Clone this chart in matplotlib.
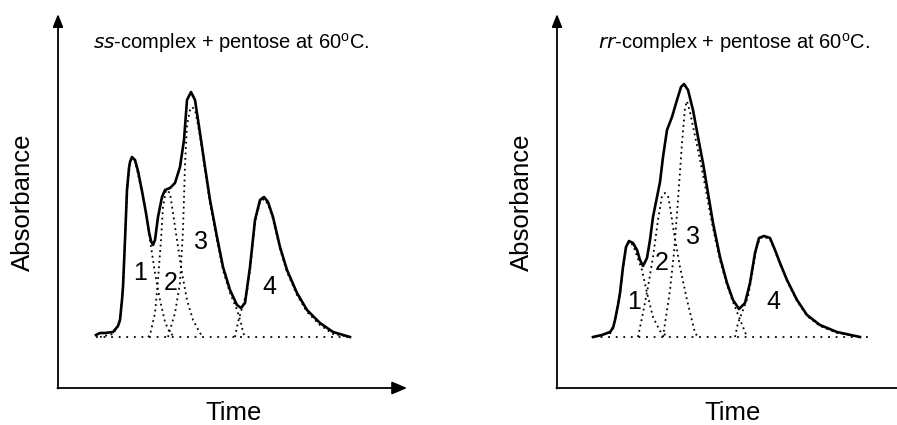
import matplotlib
matplotlib.use("Agg")
import matplotlib.pyplot as plt

plt.rcParams['font.family'] = ['Liberation Sans', 'DejaVu Sans']

# ---------------- data (time, absorbance above baseline; arbitrary units) -------------
# Left panel: ss-complex
ss_total_t = [38, 42, 47, 55, 60, 62, 64, 65, 67, 69, 71, 72, 74, 77, 80, 84, 88, 91, 93, 95, 97,
              100, 104, 107, 112, 117, 122, 126, 129, 133, 137, 142, 147, 152, 159, 165, 172,
              179, 183, 187, 192, 197, 202, 206, 210, 215, 222, 229, 239, 249, 262, 275, 292]
ss_total_a = [2, 4, 4, 5, 11, 17, 37, 50, 97, 147, 169, 175, 180, 177, 166, 146, 124, 105, 96, 92, 97,
              120, 140, 147, 149, 154, 170, 197, 237, 245, 237, 204, 170, 137, 100, 70, 47,
              32, 29, 34, 70, 117, 137, 140, 135, 120, 90, 67, 44, 27, 14, 5, 0]
ss_p1_t = [42, 55, 60, 62, 65, 67, 69, 72, 74, 77, 80, 85, 90, 92, 97, 102, 107, 112, 117]
ss_p1_a = [0, 3, 11, 17, 50, 97, 147, 174, 179, 176, 163, 139, 112, 97, 64, 37, 15, 4, 0]
ss_p2_t = [90, 92, 97, 100, 103, 105, 108, 112, 115, 119, 124, 129, 135, 142, 145]
ss_p2_a = [0, 2, 24, 57, 97, 130, 147, 144, 124, 97, 64, 37, 17, 4, 0]
ss_p3_t = [110, 117, 122, 125, 127, 129, 132, 134, 137, 139, 142, 147, 152, 159, 165, 172, 179, 183, 185, 187]
ss_p3_a = [0, 24, 54, 107, 172, 212, 227, 230, 227, 217, 201, 167, 134, 97, 67, 44, 27, 14, 5, 0]
ss_p4_t = [177, 180, 184, 189, 192, 197, 202, 206, 210, 215, 222, 229, 239, 249, 262, 275, 292]
ss_p4_a = [0, 15, 29, 45, 67, 115, 135, 138, 133, 118, 88, 65, 42, 25, 12, 3, 0]
ss_base_t = [38, 292]

# Right panel: rr-complex
rr_total_t = [36, 45, 53, 56, 58, 61, 63, 66, 69, 72, 76, 80, 83, 86, 90, 93, 96, 100, 103, 106,
              110, 115, 120, 124, 127, 131, 136, 141, 146, 151, 156, 163, 170, 176, 182, 188,
              193, 198, 202, 207, 213, 218, 223, 230, 240, 250, 263, 280, 303]
rr_total_a = [0, 2, 5, 9, 17, 32, 44, 70, 90, 96, 94, 87, 77, 71, 79, 97, 120, 140, 155, 180,
              207, 220, 237, 250, 253, 247, 227, 200, 174, 144, 114, 80, 54, 37, 28, 34,
              54, 84, 99, 101, 99, 87, 74, 57, 37, 22, 12, 5, 0]
rr_p1_t = [53, 58, 63, 66, 69, 72, 76, 80, 85, 90, 96, 103, 111]
rr_p1_a = [3, 16, 43, 69, 89, 95, 92, 81, 67, 44, 20, 6, 0]
rr_p2_t = [81, 86, 91, 96, 101, 105, 108, 111, 113, 117, 123, 130, 138, 141]
rr_p2_a = [0, 24, 50, 80, 117, 141, 144, 141, 130, 104, 70, 37, 4, 0]
rr_p3_t = [106, 113, 117, 121, 125, 128, 130, 133, 138, 143, 148, 153, 158, 163, 170, 176, 180, 186, 190]
rr_p3_a = [0, 47, 84, 137, 194, 229, 236, 225, 201, 177, 152, 124, 99, 77, 52, 35, 25, 10, 0]
rr_p4_t = [178, 181, 186, 191, 195, 199, 203, 207, 213, 218, 223, 230, 240, 250, 263, 280, 303]
rr_p4_a = [0, 14, 27, 40, 62, 87, 99, 100, 98, 86, 73, 56, 36, 21, 11, 4, 0]
rr_base_t = [36, 313]

peak_labels = ["1", "2", "3", "4"]
ss_label_pos = [(82, 64), (113, 54), (143, 95), (211, 50)]
rr_label_pos = [(77, 35), (105, 74), (136, 100), (216, 35)]

xlabel = "Time"
ylabel = "Absorbance"

# ---------------- figure ----------------
W, H = 897, 425
fig = plt.figure(figsize=(W / 100, H / 100), dpi=100)

DOT = (0, (1, 2.0))


def make_axes(px_left):
    # axes spanning 380x390 px, data origin at y-axis, baseline at 0
    ax = fig.add_axes([px_left / W, 30 / H, 380 / W, 390 / H])
    ax.set_xlim(-18, 362)
    ax.set_ylim(-58, 332)
    ax.axis('off')
    return ax


def draw_panel(ax, total_t, total_a, comps, base_t, label_pos, title, x_tip):
    # axes with arrows
    ax.annotate("", xy=(0, 323), xytext=(0, -51.5),
                arrowprops=dict(arrowstyle='-|>,head_length=0.55,head_width=0.22',
                                lw=1.3, color='black', shrinkA=0, shrinkB=0,
                                mutation_scale=14), annotation_clip=False)
    ax.annotate("", xy=(x_tip, -51), xytext=(-0.6, -51),
                arrowprops=dict(arrowstyle='-|>,head_length=0.65,head_width=0.28',
                                lw=1.3, color='black', shrinkA=0, shrinkB=0,
                                mutation_scale=14), annotation_clip=False)
    ax.plot(base_t, [0, 0], color='black', lw=1.3, linestyle=(0, (1, 3.2)))
    for ct, ca in comps:
        ax.plot(ct, ca, color='black', lw=1.3, linestyle=DOT)
    ax.plot(total_t, total_a, color='black', lw=1.9, solid_joinstyle='round')
    for lab, (lx, ly) in zip(peak_labels, label_pos):
        ax.text(lx, ly, lab, fontsize=18, ha='center', va='center')
    ax.text(title[1], 294, title[0], fontsize=14.5, ha='left', va='center')
    ax.text(-35, 135, ylabel, fontsize=18.5, rotation=90, ha='center', va='center',
            clip_on=False)
    ax.text(176, -76, xlabel, fontsize=18.5, ha='center', va='center', clip_on=False)


axL = make_axes(40)
draw_panel(axL, ss_total_t, ss_total_a,
           [(ss_p1_t, ss_p1_a), (ss_p2_t, ss_p2_a), (ss_p3_t, ss_p3_a), (ss_p4_t, ss_p4_a)],
           ss_base_t, ss_label_pos,
           (r"$\mathit{ss}$-complex + pentose at 60$^\mathregular{o}$C.", 35), 349)

axR = make_axes(539)
draw_panel(axR, rr_total_t, rr_total_a,
           [(rr_p1_t, rr_p1_a), (rr_p2_t, rr_p2_a), (rr_p3_t, rr_p3_a), (rr_p4_t, rr_p4_a)],
           rr_base_t, rr_label_pos,
           (r"$\mathit{rr}$-complex + pentose at 60$^\mathregular{o}$C.", 41), 360)

fig.savefig("out.png", dpi=100)
